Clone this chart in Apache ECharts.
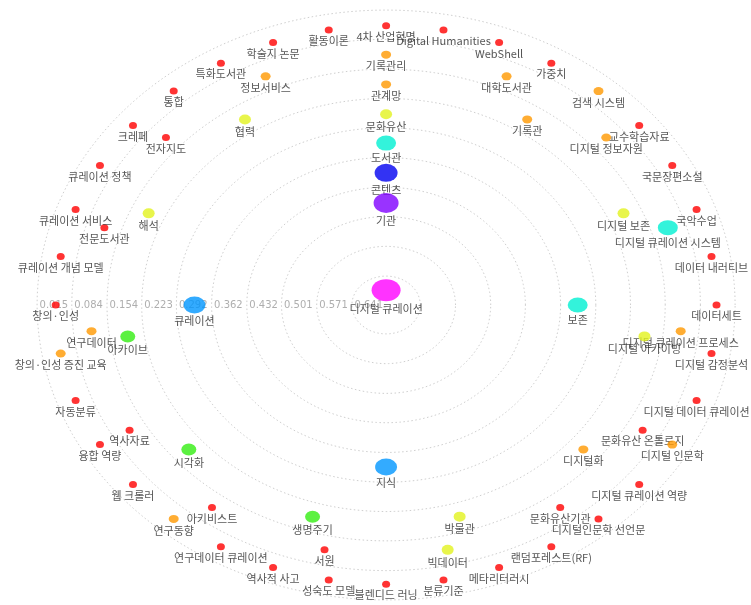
<!DOCTYPE html>
<html>
<head>
<meta charset="utf-8">
<script src="https://cdn.jsdelivr.net/npm/echarts@6/dist/echarts.min.js"></script>
<style>
html,body{margin:0;padding:0;background:#ffffff;}
#chart{width:751px;height:605px;}
</style>
</head>
<body>
<div id="chart"></div>
<script>
// ---- radial axis (value decreases outward) ----
const tickLabels = ['0.015','0.084','0.154','0.223','0.292','0.362','0.432','0.501','0.571','0.641'];
const tickValues = [0.015, 0.084, 0.154, 0.223, 0.292, 0.362, 0.432, 0.501, 0.571, 0.641];
const centreValue = 0.709;

// ---- nodes per concentric level (listed counter-clockwise from the top) ----
const levelValues = [0.674, 0.469, 0.398, 0.328, 0.260, 0.190, 0.120, 0.052];
const level1 = ['디지털 큐레이션'];
const level2 = ['기관'];
const level3 = ['콘텐츠'];
const level4 = ['도서관', '큐레이션', '지식', '보존'];
const level5 = ['문화유산'];
const level6 = ['관계망', '협력', '해석', '아카이브', '시각화', '생명주기', '박물관', '디지털화',
  '디지털 아카이빙', '디지털 보존', '기록관'];
const level7 = ['기록관리', '정보서비스', '전자지도', '전문도서관', '연구데이터', '역사자료', '아키비스트',
  '서원', '빅데이터', '문화유산기관', '문화유산 온톨로지', '디지털 큐레이션 프로세스',
  '디지털 큐레이션 시스템', '디지털 정보자원', '대학도서관'];
const level8 = ['4차 산업혁명', '활동이론', '학술지 논문', '특화도서관', '통합', '크레페', '큐레이션 정책',
  '큐레이션 서비스', '큐레이션 개념 모델', '창의·인성', '창의·인성 증진 교육', '자동분류', '융합 역량',
  '웹 크롤러', '연구동향', '연구데이터 큐레이션', '역사적 사고', '성숙도 모델', '블렌디드 러닝', '분류기준',
  '메타리터러시', '랜덤포레스트(RF)', '디지털인문학 선언문', '디지털 큐레이션 역량', '디지털 인문학',
  '디지털 데이터 큐레이션', '디지털 감정분석', '데이터세트', '데이터 내러티브', '국악수업', '국문장편소설',
  '교수학습자료', '검색 시스템', '가중치', 'WebShell', 'Digital Humanities'];

// ---- node classes ----
const magentaNodes = ['디지털 큐레이션'];
const violetNodes = ['기관'];
const blueNodes = ['콘텐츠'];
const cyanNodes = ['도서관', '보존', '디지털 큐레이션 시스템'];
const azureNodes = ['큐레이션', '지식'];
const greenNodes = ['아카이브', '시각화', '생명주기'];
const yellowNodes = ['문화유산', '협력', '해석', '디지털 보존', '디지털 아카이빙', '박물관', '빅데이터'];
const orangeNodes = ['관계망', '기록관리', '정보서비스', '대학도서관', '기록관', '검색 시스템', '디지털 정보자원',
  '디지털 큐레이션 프로세스', '디지털 인문학', '디지털화', '연구동향', '연구데이터', '창의·인성 증진 교육'];

// ---- styles ----
const classStyles = [
  {nodes: magentaNodes, color: '#ff00ff', size: [29, 22]},
  {nodes: violetNodes, color: '#8000ff', size: [25, 20]},
  {nodes: blueNodes, color: '#0000f0', size: [23, 18]},
  {nodes: azureNodes, color: '#0096ff', size: [22, 17]},
  {nodes: cyanNodes, color: '#00f0d2', size: [20, 15]},
  {nodes: greenNodes, color: '#33ee11', size: [15, 12]},
  {nodes: yellowNodes, color: '#e2f21e', size: [12, 10]},
  {nodes: orangeNodes, color: '#ff9900', size: [10, 8]},
  {nodes: null, color: '#ff0000', size: [8, 7]}
];

const levels = [level1, level2, level3, level4, level5, level6, level7, level8];

function toXY(v, angleDeg) {
  const d = centreValue - v;
  const a = angleDeg * Math.PI / 180;
  return [d * Math.cos(a), d * Math.sin(a)];
}

function classOf(name) {
  for (let i = 0; i < classStyles.length - 1; i++) {
    if (classStyles[i].nodes.indexOf(name) >= 0) return i;
  }
  return classStyles.length - 1;
}

const classData = classStyles.map(() => []);
levels.forEach((names, li) => {
  const n = names.length;
  names.forEach((name, i) => {
    const ang = 90 + i * 360 / n;
    classData[classOf(name)].push({name: name, value: toXY(levelValues[li], ang)});
  });
});

const series = [];
// rings
tickValues.forEach((t) => {
  const pts = [];
  for (let a = 0; a <= 360; a += 2) pts.push(toXY(t, a));
  series.push({
    type: 'line', data: pts, symbol: 'none', silent: true, clip: false, zlevel: 0, z: 1,
    lineStyle: {color: '#cfcfcf', width: 1, type: [1.5, 2.5]}
  });
});
// tick labels
series.push({
  type: 'scatter', zlevel: 0, z: 2, silent: true, clip: false, symbolSize: 1,
  itemStyle: {color: 'rgba(0,0,0,0)'},
  data: tickValues.map((t, i) => ({name: tickLabels[i], value: toXY(t, 180)})),
  label: {show: true, position: 'right', distance: 2, formatter: '{b}',
    color: '#9a9a9a', fontSize: 10, fontFamily: 'DejaVu Sans'}
});
// nodes: smaller classes on lower layers so big dots cover their neighbours' labels
const nClass = classStyles.length;
for (let ci = nClass - 1; ci >= 0; ci--) {
  const st = classStyles[ci];
  series.push({
    type: 'scatter', zlevel: 1 + (nClass - 1 - ci), z: 3, clip: false, data: classData[ci],
    symbol: 'circle', symbolSize: st.size,
    itemStyle: {color: st.color},
    label: {show: true, position: 'bottom', distance: 2, formatter: '{b}',
      color: '#2a2a2a', fontSize: 11, fontFamily: 'Noto Sans CJK KR'},
    labelLayout: {hideOverlap: false}
  });
}

const chart = echarts.init(document.getElementById('chart'), null, {renderer: 'canvas'});
chart.setOption({
  animation: false,
  backgroundColor: '#ffffff',
  grid: {left: 24, top: 7.5, width: 724.2, height: 595},
  xAxis: {type: 'value', min: -0.72, max: 0.72, show: false},
  yAxis: {type: 'value', min: -0.7, max: 0.7, show: false},
  series: series
});
</script>
</body>
</html>
